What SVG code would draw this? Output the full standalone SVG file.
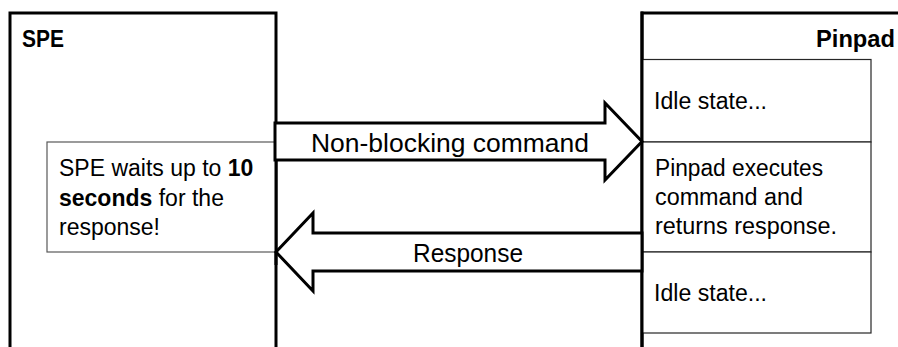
<svg xmlns="http://www.w3.org/2000/svg" width="898" height="347" viewBox="0 0 898 347">
<style>
  text { font-family: "Liberation Sans", Arial, sans-serif; fill: #000; }
  .lane { fill: #fff; stroke: #000; stroke-width: 3; }
  .hdr { font-size: 24px; font-weight: bold; }
  .body { font-size: 23px; }
  .b { font-weight: bold; }
  .note { fill: #fff; stroke: #595959; stroke-width: 1.2; }
  .state { fill: #fff; stroke: #262626; stroke-width: 1.2; }
  .arrow { fill: #fff; stroke: #000; stroke-width: 3; stroke-linejoin: miter; }
  .alabel { font-size: 26px; text-anchor: middle; }
</style>
<rect width="898" height="347" fill="#fff"/>

<g id="spe">
  <path class="lane" d="M10,360 V13 H276 V360"/>
  <text class="hdr" x="22" y="47" textLength="42" lengthAdjust="spacingAndGlyphs">SPE</text>
</g>

<g id="pinpad">
  <path class="lane" d="M642,360 V13 H905"/>
  <text class="hdr" x="895" y="47" text-anchor="end" textLength="79" lengthAdjust="spacingAndGlyphs">Pinpad</text>
</g>

<g id="note-wait">
  <rect class="note" x="47" y="142" width="229" height="110"/>
  <text class="body" x="59" y="176">SPE waits up to <tspan class="b">10</tspan></text>
  <text class="body" x="59" y="205.5"><tspan class="b">seconds</tspan> for the</text>
  <text class="body" x="59" y="235">response!</text>
  <line x1="276" y1="130" x2="276" y2="265" stroke="#000" stroke-width="3"/>
</g>

<g id="state-idle-1">
  <rect class="state" x="642" y="59.5" width="229" height="82.5"/>
  <text class="body" x="654" y="109" textLength="113" lengthAdjust="spacingAndGlyphs">Idle state...</text>
</g>

<g id="state-exec">
  <rect class="state" x="642" y="142" width="229" height="110"/>
  <text class="body" x="655" y="176" textLength="168" lengthAdjust="spacingAndGlyphs">Pinpad executes</text>
  <text class="body" x="655" y="205" textLength="148" lengthAdjust="spacingAndGlyphs">command and</text>
  <text class="body" x="655" y="234" textLength="182" lengthAdjust="spacingAndGlyphs">returns response.</text>
</g>

<g id="state-idle-2">
  <rect class="state" x="642" y="252" width="229" height="81"/>
  <text class="body" x="654" y="301" textLength="113" lengthAdjust="spacingAndGlyphs">Idle state...</text>
  <line x1="642" y1="11.5" x2="642" y2="360" stroke="#000" stroke-width="3"/>
</g>

<g id="connectors">
  <g id="cmd-arrow">
    <polygon class="arrow" points="275,123 605,123 605,103 642,141.5 605,180 605,160 275,160"/>
    <text class="alabel" x="450" y="151.5" textLength="278" lengthAdjust="spacingAndGlyphs">Non-blocking command</text>
  </g>
  <g id="resp-arrow">
    <polygon class="arrow" points="642,233 313,233 313,213 276,252 313,291 313,271 642,271"/>
    <text class="alabel" x="468" y="262" textLength="110" lengthAdjust="spacingAndGlyphs">Response</text>
  </g>
</g>
</svg>
